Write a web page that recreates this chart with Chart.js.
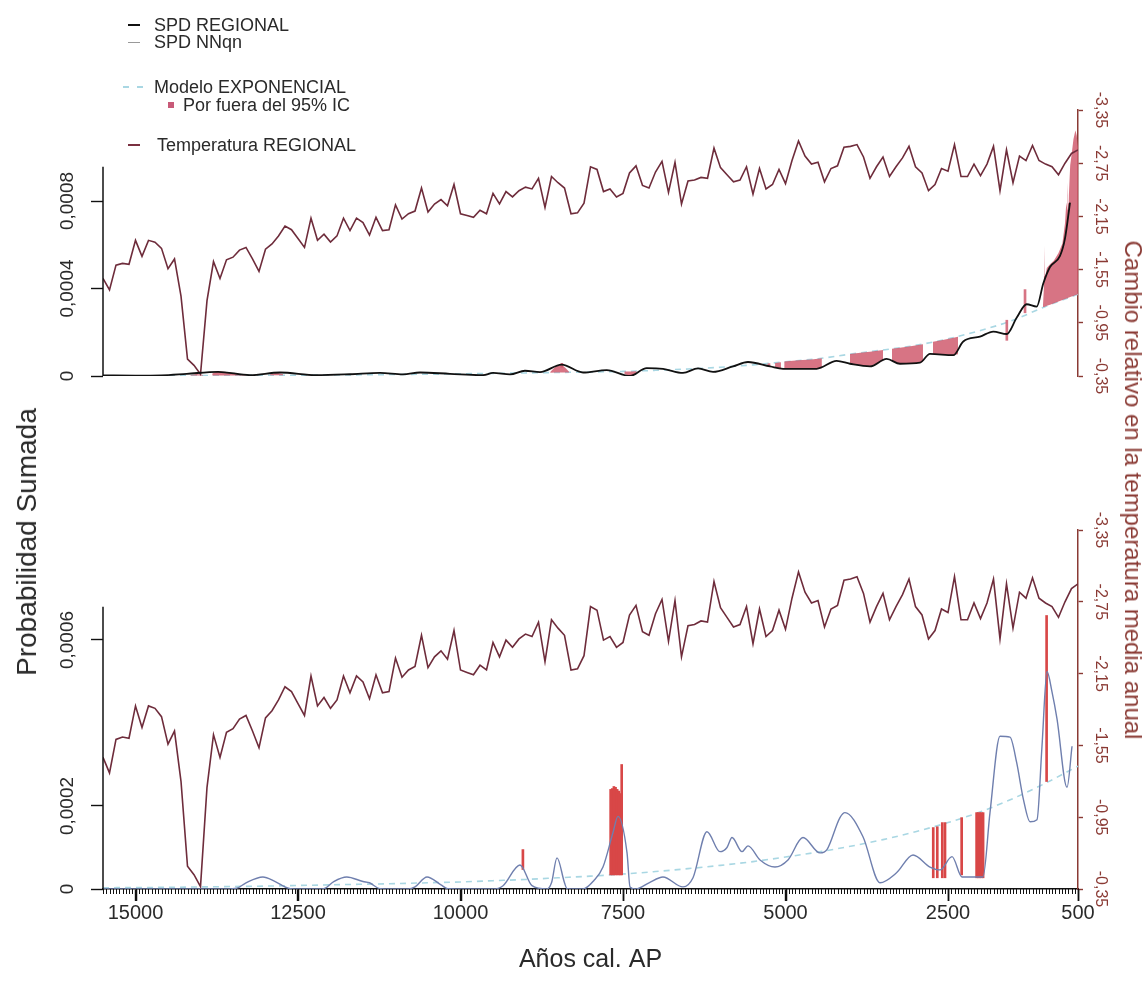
<!DOCTYPE html>
<html lang="es">
<head>
<meta charset="utf-8">
<title>SPD regional y temperatura media anual</title>
<script src="https://cdn.jsdelivr.net/npm/chart.js@4.4.1/dist/chart.umd.min.js"></script>
<style>
  html, body { margin: 0; padding: 0; background: #fff; }
  #figure { position: relative; width: 1148px; height: 981px; background: #fff; overflow: hidden;
            font-family: "Liberation Sans", Arial, Helvetica, sans-serif; color: #2a2a2a; }
  #figure canvas { position: absolute; left: 0; }
  #panelTop { top: 0; }
  #panelBottom { top: 500px; }
  .lg { position: absolute; font-size: 18px; line-height: 20px; white-space: nowrap; color: #2a2a2a; }
  .mk { position: absolute; }
  .vtitle { position: absolute; white-space: nowrap; line-height: 1; }
</style>
</head>
<body>
<div id="figure">
  <canvas id="panelTop" width="1148" height="500"></canvas>
  <canvas id="panelBottom" width="1148" height="481"></canvas>

  <!-- leyenda -->
  <div class="mk" style="left:128px;top:24px;width:12px;height:2px;background:#111"></div>
  <div class="lg" style="left:154px;top:15px">SPD REGIONAL</div>
  <div class="mk" style="left:128px;top:42px;width:12px;height:1px;background:#999"></div>
  <div class="lg" style="left:154px;top:32px">SPD NNqn</div>
  <div class="mk" style="left:123px;top:86px;width:6px;height:1.5px;background:#a9d7e3"></div>
  <div class="mk" style="left:137px;top:86px;width:6px;height:1.5px;background:#a9d7e3"></div>
  <div class="lg" style="left:154px;top:77px">Modelo EXPONENCIAL</div>
  <div class="mk" style="left:168px;top:102px;width:6px;height:6px;background:#c85a78"></div>
  <div class="lg" style="left:183px;top:95px">Por fuera del 95% IC</div>
  <div class="mk" style="left:128px;top:144px;width:12px;height:1.5px;background:#7a3040"></div>
  <div class="lg" style="left:157px;top:135px">Temperatura REGIONAL</div>

  <!-- títulos verticales compartidos por ambos paneles -->
  <div class="vtitle" id="ttlLeft" style="left:27px;top:542px;font-size:28px;color:#2a2a2a;transform:translate(-50%,-50%) rotate(-90deg)">Probabilidad Sumada</div>
  <div class="vtitle" id="ttlRight" style="left:1133px;top:490px;font-size:24px;color:#8a3a34;transform:translate(-50%,-50%) rotate(90deg)">Cambio relativo en la temperatura media anual</div>
</div>

<script>
// ---------- eje temporal ----------
const yearMin = 500, yearMax = 15500;
const xMajorTicks = [15000, 12500, 10000, 7500, 5000, 2500, 500];
const xMajorLabels = ['15000', '12500', '10000', '7500', '5000', '2500', '500'];
const xMinorStep = 50;

// ---------- ejes de probabilidad ----------
const probTicksTop = [0, 0.0004, 0.0008];
const probLabelsTop = ['0', '0,0004', '0,0008'];
const probTicksBottom = [0, 0.0002, 0.0006];
const probLabelsBottom = ['0', '0,0002', '0,0006'];

// ---------- eje de temperatura ----------
const tempTicks = [-3.35, -2.75, -2.15, -1.55, -0.95, -0.35];
const tempLabels = ['-3,35', '-2,75', '-2,15', '-1,55', '-0,95', '-0,35'];

// ---------- temperatura regional (cada 100 años) ----------
const tempYears = [
  15500,15400,15300,15200,15100,15000,14900,14800,14700,14600,
  14500,14400,14300,14200,14100,14000,13900,13800,13700,13600,
  13500,13400,13300,13200,13100,13000,12900,12800,12700,12600,
  12500,12400,12300,12200,12100,12000,11900,11800,11700,11600,
  11500,11400,11300,11200,11100,11000,10900,10800,10700,10600,
  10500,10400,10300,10200,10100,10000,9900,9800,9700,9600,
  9500,9400,9300,9200,9100,9000,8900,8800,8700,8600,
  8500,8400,8300,8200,8100,8000,7900,7800,7700,7600,
  7500,7400,7300,7200,7100,7000,6900,6800,6700,6600,
  6500,6400,6300,6200,6100,6000,5900,5800,5700,5600,
  5500,5400,5300,5200,5100,5000,4900,4800,4700,4600,
  4500,4400,4300,4200,4100,4000,3900,3800,3700,3600,
  3500,3400,3300,3200,3100,3000,2900,2800,2700,2600,
  2500,2400,2300,2200,2100,2000,1900,1800,1700,1600,
  1500,1400,1300,1200,1100,1000,900,800,700,600,
  500
];
const tempRegional = [
  -1.45,-1.32,-1.60,-1.62,-1.61,-1.88,-1.70,-1.88,-1.86,-1.79,
  -1.56,-1.67,-1.25,-0.54,-0.47,-0.37,-1.20,-1.64,-1.45,-1.66,
  -1.69,-1.77,-1.80,-1.67,-1.53,-1.78,-1.84,-1.93,-2.04,-2.00,
  -1.90,-1.80,-2.13,-1.88,-1.95,-1.86,-1.93,-2.13,-1.99,-2.13,
  -2.08,-1.94,-2.14,-1.99,-2.00,-2.28,-2.12,-2.18,-2.21,-2.47,
  -2.20,-2.29,-2.34,-2.27,-2.51,-2.18,-2.16,-2.14,-2.22,-2.18,
  -2.41,-2.29,-2.43,-2.37,-2.44,-2.48,-2.46,-2.58,-2.25,-2.60,
  -2.53,-2.47,-2.18,-2.19,-2.30,-2.71,-2.68,-2.43,-2.46,-2.37,
  -2.41,-2.64,-2.72,-2.50,-2.47,-2.65,-2.77,-2.42,-2.76,-2.29,
  -2.55,-2.56,-2.59,-2.58,-2.92,-2.70,-2.62,-2.54,-2.56,-2.71,
  -2.40,-2.69,-2.46,-2.51,-2.68,-2.52,-2.78,-3.00,-2.83,-2.74,
  -2.76,-2.54,-2.69,-2.72,-2.93,-2.94,-2.96,-2.82,-2.58,-2.71,
  -2.82,-2.60,-2.71,-2.81,-2.94,-2.71,-2.64,-2.44,-2.51,-2.69,
  -2.66,-2.96,-2.60,-2.60,-2.74,-2.61,-2.74,-2.94,-2.44,-2.90,
  -2.53,-2.83,-2.78,-2.95,-2.78,-2.74,-2.71,-2.62,-2.75,-2.86,
  -2.90
];

// ---------- SPD REGIONAL ----------
const spdRegYears = [15500,15000,14600,14212,13730,13238,12777,12213,11700,11238,10885,10623,10162,9654,9500,9238,9008,8777,8444,8115,
  7750,7392,7135,6885,6577,6346,6115,5808,5577,5238,5038,4521,4213,4008,3700,3444,3238,2931,2777,2418,
  2265,2008,1803,1597,1444,1290,1136,1033,931,777,700,623];
const spdRegional = [0.000003,0.000002,0.000003,0.000010,0.000019,0.000004,0.000016,0.000004,0.000008,0.000014,0.000007,0.000016,0.000010,0.000004,0.000014,0.000007,0.000024,0.000018,0.000052,0.000016,
  0.000027,0.000000,0.000036,0.000033,0.000014,0.000035,0.000019,0.000044,0.000064,0.000044,0.000033,0.000033,0.000069,0.000056,0.000044,0.000078,0.000056,0.000061,0.000101,0.000095,
  0.000158,0.000180,0.000203,0.000192,0.000266,0.000328,0.000317,0.000424,0.000498,0.000549,0.000629,0.000793];

// ---------- SPD NNqn ----------
const spdNNYears = [15500,13600,13440,13300,13040,12850,12620,12300,12100,11950,11750,11500,11400,11240,10800,10700,10515,10300,10200,9500,
  9346,9085,8900,8670,8600,8515,8400,8362,8115,7950,7808,7654,7577,7438,7392,7300,7100,6885,6577,6423,
  6208,6008,5900,5823,5669,5577,5392,5162,4962,4731,4469,4362,4162,4085,3808,3546,3292,3038,2777,2623,
  2438,2285,1962,1854,1700,1546,1444,1340,1238,1131,1054,977,900,823,669,592];
const spdNNqn = [0,0,0.000002,0.000015,0.000029,0.000018,0.000001,0,0.000001,0.000018,0.000029,0.000018,0.000015,0.000001,0,0.000005,0.000029,0.000010,0.000001,0,
  0.000008,0.000058,0.000008,0,0.000015,0.000075,0.000015,0.000001,0,0.000020,0.000053,0.000136,0.000175,0.000087,0.000005,0,0.000015,0.000029,0.000005,0.000027,
  0.000138,0.000090,0.000100,0.000124,0.000090,0.000104,0.000070,0.000053,0.000070,0.000124,0.000087,0.000095,0.000172,0.000184,0.000126,0.000015,0.000039,0.000082,0.000053,0.000046,
  0.000078,0.000029,0.000029,0.000184,0.000368,0.000366,0.000305,0.000216,0.000162,0.000167,0.000344,0.000524,0.000475,0.000410,0.000245,0.000344];

// ---------- modelo exponencial ----------
const modelYears = [15500,15000,14500,14000,13500,13000,12500,12000,11500,11000,10500,10000,9500,9000,8500,8000,
  7500,7000,6500,6000,5500,5000,4500,4000,3500,3000,2500,2000,1500,1000,500];
const modelRegional = [0.0000010,0.0000012,0.0000015,0.0000020,0.0000025,0.0000030,0.0000038,0.0000046,0.0000056,0.0000068,0.0000082,0.0000100,0.0000120,0.0000140,0.0000160,0.0000185,
  0.0000210,0.0000260,0.0000320,0.0000400,0.0000510,0.0000650,0.0000790,0.0001000,0.0001190,0.0001400,0.0001700,0.0002080,0.0002550,0.0003180,0.0003740];
const modelNNqn = [0.0000030,0.0000035,0.0000040,0.0000050,0.0000060,0.0000070,0.0000085,0.0000100,0.0000115,0.0000130,0.0000150,0.0000170,0.0000200,0.0000230,0.0000270,0.0000310,
  0.0000360,0.0000420,0.0000490,0.0000570,0.0000660,0.0000770,0.0000890,0.0001030,0.0001190,0.0001380,0.0001600,0.0001860,0.0002180,0.0002550,0.0002960];

// ---------- tramos por fuera del 95% IC (SPD regional; null separa tramos) ----------
const outYearsTop = [
  14160,14060,13960, null,
  13820,13730,13600,13450,13300, null,
  12930,12830,12730, null,
  8620,8540,8444,8380,8330, null,
  7480,7390,7290, null,
  5280,5230, null,
  5160,5070, null,
  5020,4800,4600,4440, null,
  4008,3850,3700,3500, null,
  3362,3240,3100,2885, null,
  2731,2600,2450,2346, null,
  1040,1025,1020,1015,1005,980,930,870,800,740,700,680,665,660,650,640,620,600,570,540,520,500
];
const outUpperTop = [
  0.000004,0.000009,0.000005, null,
  0.000012,0.000022,0.000018,0.000012,0.000006, null,
  0.000007,0.000016,0.000008, null,
  0.000018,0.000042,0.000052,0.000035,0.000020, null,
  0.000021,0.000021,0.000022, null,
  0.000057,0.000058, null,
  0.000060,0.000063, null,
  0.000066,0.000072,0.000076,0.000081, null,
  0.000100,0.000106,0.000111,0.000119, null,
  0.000124,0.000129,0.000135,0.000145, null,
  0.000156,0.000163,0.000173,0.000180, null,
  0.000317,0.000400,0.000596,0.000460,0.000453,0.000494,0.000511,0.000528,0.000562,0.000606,0.000698,0.000793,0.000760,0.000885,0.000790,0.000827,0.000963,0.001008,0.001082,0.001123,0.001100,0.001048
];
const outLowerTop = [
  0.000002,0.000002,0.000002, null,
  0.0000025,0.0000025,0.0000025,0.0000025,0.0000025, null,
  0.000003,0.000003,0.000003, null,
  0.000015,0.0000155,0.000016,0.000016,0.0000165, null,
  0.000009,0.000000,0.000010, null,
  0.000043,0.000042, null,
  0.000038,0.000034, null,
  0.000033,0.000032,0.000033,0.000036, null,
  0.000056,0.000048,0.000044,0.000070, null,
  0.000068,0.000056,0.000055,0.000064, null,
  0.000100,0.000098,0.000095,0.000100, null,
  0.000315,0.000316,0.000316,0.000317,0.000318,0.000321,0.000326,0.000333,0.000341,0.000348,0.000352,0.000354,0.000356,0.000356,0.000358,0.000359,0.000361,0.000363,0.000366,0.000370,0.000372,0.000374
];
// trazos aislados por fuera del IC (SPD regional)
const outSpikeYearsTop = [1595, 1315, 8440];
const outSpikeLowTop = [0.000163, 0.000289, 0.000040];
const outSpikeHighTop = [0.000255, 0.000395, 0.000058];

// ---------- tramos por fuera del 95% IC (SPD NNqn) ----------
const outYearsBottom = [9040, 7690,7665,7640,7615,7590,7565,7540,7520, 2727,2665,2588,2546, 2290, 2060,2035,2010,1985,1960, 983];
const outLowBottom = [0.000047, 0.000034,0.000034,0.000034,0.000034,0.000034,0.000034,0.000034,0.000034, 0.000027,0.000027,0.000027,0.000027, 0.000034, 0.000027,0.000027,0.000027,0.000027,0.000027, 0.000259];
const outHighBottom = [0.000095, 0.000240,0.000242,0.000247,0.000245,0.000240,0.000236,0.000230,0.000300, 0.000148,0.000150,0.000160,0.000160, 0.000172, 0.000184,0.000184,0.000184,0.000184,0.000184, 0.000659];

// ---------- estilos ----------
const FONT = '"Liberation Sans", Arial, Helvetica, sans-serif';
const colBlack = '#111111';
const colTemp = '#6e2c3b';
const colAxisRed = '#8a3a34';
const colModel = '#a9d7e3';
const colPink = 'rgba(208, 92, 110, 0.85)';
const colRed = '#d84747';
const colNN = '#6f7fae';

Chart.defaults.font.family = FONT;

const pts = (xs, ys) => xs.map((x, i) => ({ x: x, y: ys[i] }));
const bars = (xs, lo, hi) => xs.map((x, i) => ({ x: x, y: [lo[i], hi[i]] }));

// etiquetas giradas y línea parcial de los ejes verticales
const verticalAxisDecor = {
  id: 'verticalAxisDecor',
  afterDraw(chart, args, opts) {
    const ctx = chart.ctx;
    (opts.labels || []).forEach(spec => {
      const sc = chart.scales[spec.scale];
      ctx.save();
      ctx.font = spec.font;
      ctx.fillStyle = spec.color;
      ctx.textAlign = 'center';
      ctx.textBaseline = 'middle';
      spec.values.forEach((v, i) => {
        ctx.save();
        ctx.translate(spec.x, sc.getPixelForValue(v));
        ctx.rotate(spec.angle);
        ctx.fillText(spec.text[i], 0, 0);
        ctx.restore();
      });
      ctx.restore();
    });
    (opts.lines || []).forEach(spec => {
      const sc = chart.scales[spec.scale];
      ctx.save();
      ctx.strokeStyle = spec.color;
      ctx.lineWidth = spec.width;
      ctx.beginPath();
      ctx.moveTo(sc.right, sc.getPixelForValue(spec.from));
      ctx.lineTo(sc.right, sc.getPixelForValue(spec.to));
      ctx.stroke();
      ctx.restore();
    });
  }
};

// marcas del eje de años: menores cada 50 años y mayores en las etiquetas
const yearTicks = {
  id: 'yearTicks',
  afterDraw(chart, args, opts) {
    if (!opts.enabled) return;
    const sc = chart.scales.x;
    const ctx = chart.ctx;
    ctx.save();
    ctx.strokeStyle = '#111';
    ctx.lineWidth = 1;
    ctx.beginPath();
    for (let v = yearMin; v <= yearMax; v += xMinorStep) {
      const px = Math.round(sc.getPixelForValue(v)) + 0.5;
      ctx.moveTo(px, sc.top);
      ctx.lineTo(px, sc.top + 5);
    }
    ctx.stroke();
    ctx.lineWidth = 1.5;
    ctx.beginPath();
    xMajorTicks.forEach(v => {
      const px = Math.round(sc.getPixelForValue(v)) + 0.5;
      ctx.moveTo(px, sc.top);
      ctx.lineTo(px, sc.top + 12);
    });
    ctx.stroke();
    ctx.restore();
  }
};

function yearAxis(visible) {
  return {
    type: 'linear', reverse: true, min: yearMin, max: yearMax, offset: false,
    display: visible,
    afterFit: s => { s.height = 92; },
    afterBuildTicks: s => { s.ticks = xMajorTicks.map(v => ({ value: v })); },
    ticks: {
      autoSkip: false, maxRotation: 0, minRotation: 0, padding: 0,
      color: '#2a2a2a', font: { size: 20 },
      callback: v => xMajorLabels[xMajorTicks.indexOf(v)]
    },
    grid: { offset: false, drawOnChartArea: false, drawTicks: true, tickLength: 12, tickColor: '#111', tickWidth: 1.4 },
    border: { display: true, color: '#111', width: 1.5 },
    title: { display: true, text: 'Años cal. AP', color: '#2a2a2a', font: { size: 25 }, padding: { top: 0, bottom: 6 } }
  };
}

function probAxis(maxVal, ticks) {
  return {
    position: 'left', min: 0, max: maxVal,
    afterFit: s => { s.width = 103; },
    afterBuildTicks: s => { s.ticks = ticks.map(v => ({ value: v })); },
    ticks: { display: false },
    grid: { drawOnChartArea: false, drawTicks: true, tickLength: 12, tickColor: '#111', tickWidth: 1.4 },
    border: { display: false }
  };
}

function tempAxis() {
  return {
    position: 'right', reverse: true, min: -3.35, max: -0.35,
    afterFit: s => { s.width = 70; },
    afterBuildTicks: s => { s.ticks = tempTicks.map(v => ({ value: v })); },
    ticks: { display: false },
    grid: { drawOnChartArea: false, drawTicks: true, tickLength: 5, tickColor: colAxisRed, tickWidth: 1.4 },
    border: { display: true, color: colAxisRed, width: 1.5 }
  };
}

const tempDataset = {
  type: 'line', label: 'Temperatura REGIONAL', yAxisID: 'yR',
  data: pts(tempYears, tempRegional),
  borderColor: colTemp, borderWidth: 1.6, pointRadius: 0, tension: 0, fill: false
};

function modelDataset(values) {
  return {
    type: 'line', label: 'Modelo EXPONENCIAL', yAxisID: 'yL',
    data: pts(modelYears, values),
    borderColor: colModel, borderWidth: 1.6, borderDash: [6, 5], pointRadius: 0,
    cubicInterpolationMode: 'monotone', fill: false
  };
}

const commonOptions = {
  responsive: false, animation: false, devicePixelRatio: 1,
  events: [],
  plugins: { legend: { display: false }, tooltip: { enabled: false } }
};

// ---------- panel superior: SPD REGIONAL ----------
new Chart(document.getElementById('panelTop'), {
  type: 'line',
  data: {
    datasets: [
      {
        type: 'line', label: 'SPD REGIONAL', yAxisID: 'yL',
        data: pts(spdRegYears, spdRegional),
        borderColor: colBlack, borderWidth: 1.8, pointRadius: 0,
        cubicInterpolationMode: 'monotone', fill: false
      },
      Object.assign({}, tempDataset, { data: pts(tempYears, tempRegional) }),
      {
        type: 'line', label: 'Por fuera del 95% IC', yAxisID: 'yL',
        data: pts(outYearsTop, outUpperTop),
        borderWidth: 0, borderColor: 'rgba(0,0,0,0)', backgroundColor: colPink,
        pointRadius: 0, spanGaps: false, fill: '+1'
      },
      {
        type: 'line', label: 'IC', yAxisID: 'yL',
        data: pts(outYearsTop, outLowerTop),
        borderWidth: 0, borderColor: 'rgba(0,0,0,0)', pointRadius: 0, spanGaps: false, fill: false
      },
      {
        type: 'bar', label: 'Por fuera del 95% IC (trazos)', yAxisID: 'yL',
        data: bars(outSpikeYearsTop, outSpikeLowTop, outSpikeHighTop),
        backgroundColor: colPink, borderWidth: 0, barThickness: 2, grouped: false
      },
      modelDataset(modelRegional)
    ]
  },
  options: Object.assign({}, commonOptions, {
    layout: { padding: { left: 0, right: 0, top: 110, bottom: 32 } },
    scales: {
      x: yearAxis(false),
      yL: probAxis(0.001216, probTicksTop),
      yR: tempAxis()
    },
    plugins: {
      legend: { display: false }, tooltip: { enabled: false },
      yearTicks: { enabled: false },
      verticalAxisDecor: {
        labels: [
          { scale: 'yL', values: probTicksTop, text: probLabelsTop, x: 68, angle: -Math.PI / 2, font: '19px ' + FONT, color: '#2a2a2a' },
          { scale: 'yR', values: tempTicks, text: tempLabels, x: 1100, angle: Math.PI / 2, font: '16px ' + FONT, color: colAxisRed }
        ],
        lines: [ { scale: 'yL', from: 0, to: 0.000957, color: '#111', width: 1.5 } ]
      }
    }
  }),
  plugins: [verticalAxisDecor, yearTicks]
});

// ---------- panel inferior: SPD NNqn ----------
new Chart(document.getElementById('panelBottom'), {
  type: 'line',
  data: {
    datasets: [
      {
        type: 'line', label: 'SPD NNqn', yAxisID: 'yL',
        data: pts(spdNNYears, spdNNqn),
        borderColor: colNN, borderWidth: 1.4, pointRadius: 0,
        cubicInterpolationMode: 'monotone', fill: false
      },
      Object.assign({}, tempDataset, { data: pts(tempYears, tempRegional) }),
      {
        type: 'bar', label: 'Por fuera del 95% IC', yAxisID: 'yL',
        data: bars(outYearsBottom, outLowBottom, outHighBottom),
        backgroundColor: colRed, borderWidth: 0, barThickness: 2, grouped: false
      },
      modelDataset(modelNNqn)
    ]
  },
  options: Object.assign({}, commonOptions, {
    layout: { padding: { left: 0, right: 0, top: 30, bottom: 0 } },
    scales: {
      x: yearAxis(true),
      yL: probAxis(0.000865, probTicksBottom),
      yR: tempAxis()
    },
    plugins: {
      legend: { display: false }, tooltip: { enabled: false },
      yearTicks: { enabled: true },
      verticalAxisDecor: {
        labels: [
          { scale: 'yL', values: probTicksBottom, text: probLabelsBottom, x: 68, angle: -Math.PI / 2, font: '19px ' + FONT, color: '#2a2a2a' },
          { scale: 'yR', values: tempTicks, text: tempLabels, x: 1100, angle: Math.PI / 2, font: '16px ' + FONT, color: colAxisRed }
        ],
        lines: [ { scale: 'yL', from: 0, to: 0.00068, color: '#111', width: 1.5 } ]
      }
    }
  }),
  plugins: [verticalAxisDecor, yearTicks]
});
</script>
</body>
</html>
